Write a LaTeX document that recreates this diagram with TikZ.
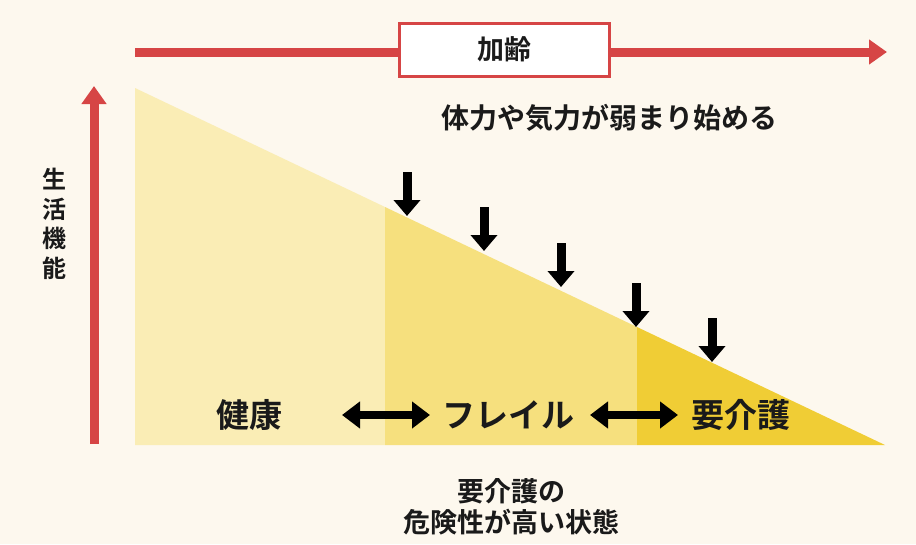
\documentclass[tikz,border=0pt]{standalone}
\usepackage{fontspec}
\setmainfont{Noto Sans CJK JP}[BoldFont={Noto Sans CJK JP Bold}]
\usetikzlibrary{arrows.meta}
\definecolor{bg}{HTML}{FDF8EE}
\definecolor{redarr}{HTML}{D64545}
\definecolor{ylight}{HTML}{FAEDB5}
\definecolor{ymid}{HTML}{F6E07E}
\definecolor{ydark}{HTML}{F0CD35}
\definecolor{txt}{HTML}{1A1A1A}
\tikzset{
  redline/.style={draw=redarr, line width=9pt, -{Triangle[length=18pt,width=24pt]}},
  downarr/.style={draw=black, line width=9pt, -{Triangle[length=16pt,width=26pt]}},
  dblarr/.style={draw=black, line width=8pt, {Triangle[length=18pt,width=26pt]}-{Triangle[length=18pt,width=26pt]}},
  lbl/.style={font=\bfseries\fontsize{33}{36}\selectfont, text=txt, inner sep=0pt},
  midtxt/.style={font=\bfseries\fontsize{28}{32}\selectfont, text=txt, inner sep=0pt, align=center},
}
\begin{document}
\begin{tikzpicture}[x=1pt,y=-1pt]
\fill[bg] (0,0) rectangle (916,544);
\useasboundingbox (0,0) rectangle (916,544);
% triangle regions
\fill[ylight] (135,88) -- (385,207) -- (385,445) -- (135,445) -- cycle;
\fill[ymid] (385,207) -- (637,327) -- (637,445) -- (385,445) -- cycle;
\fill[ydark] (637,327) -- (885,445) -- (637,445) -- cycle;
% top arrow
\coordinate (tstart) at (135,52);
\coordinate (tend) at (887,52);
\draw[redline] (tstart) -- (tend);
\node[draw=redarr, line width=3pt, fill=white, minimum width=210pt, minimum height=53pt, inner sep=0pt,
      font=\bfseries\fontsize{27}{30}\selectfont, text=txt] (age) at (504.5,49.5) {加齢};
% vertical arrow
\coordinate (vstart) at (94,444);
\coordinate (vend) at (94,86);
\draw[redline] (vstart) -- (vend);
\node[font=\bfseries\fontsize{24}{29.5}\selectfont, text=txt, align=center, inner sep=0pt] (func) at (54,224)
  {生\\活\\機\\能};
% top text
\node[midtxt] (weak) at (609,118) {体力や気力が弱まり始める};
% down arrows
\foreach \i/\x/\y in {1/407/172, 2/484/207, 3/561/243, 4/636/283, 5/712/318}{
  \coordinate (ds\i) at (\x,\y);
  \coordinate (de\i) at (\x,\y+44);
  \draw[downarr] (ds\i) -- (de\i);
}
% bottom labels
\node[lbl] (kenko) at (249,415) {健康};
\node[lbl] (frail) at (508,415) {フレイル};
\node[lbl] (kaigo) at (741,415) {要介護};
\coordinate (a1s) at (342,415);
\coordinate (a1e) at (430,415);
\coordinate (a2s) at (590,415);
\coordinate (a2e) at (678,415);
\draw[dblarr] (a1s) -- (a1e);
\draw[dblarr] (a2s) -- (a2e);
% bottom text
\node[midtxt, font=\bfseries\fontsize{27}{31}\selectfont] (risk) at (511,507) {要介護の\\危険性が高い状態};
\end{tikzpicture}
\end{document}
